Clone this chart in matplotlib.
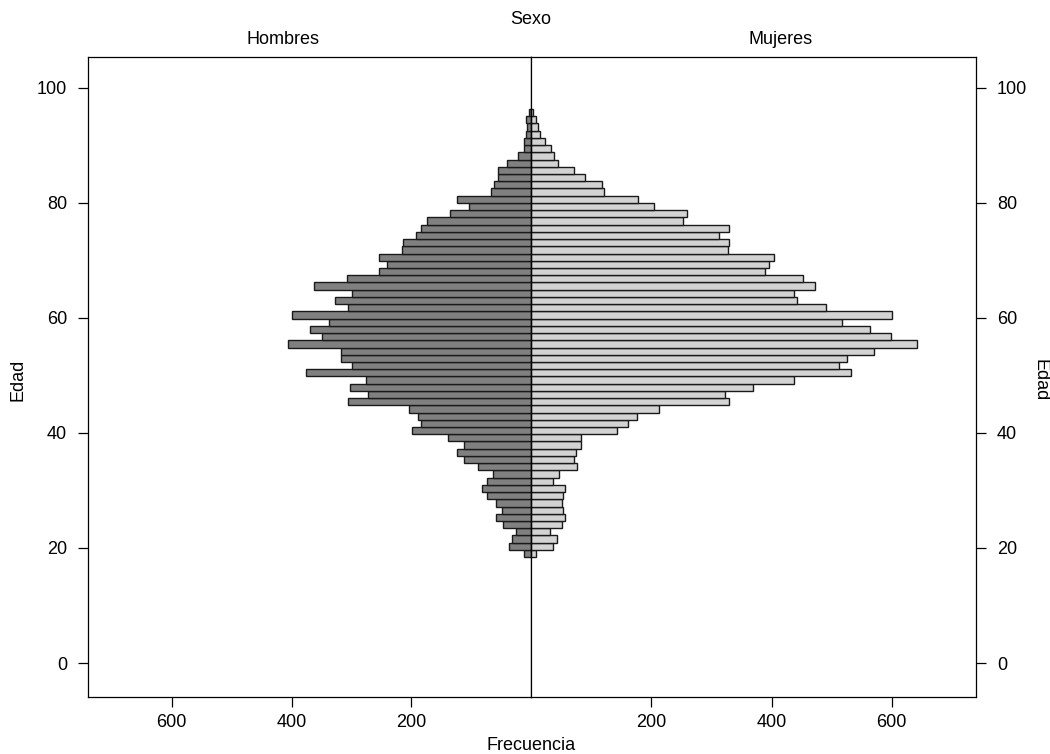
import numpy as np
import matplotlib
matplotlib.use("Agg")
import matplotlib.pyplot as plt

plt.rcParams['font.family'] = ['Liberation Sans', 'DejaVu Sans']

# Frequencies per age bin, listed from the oldest bin (top) to the youngest (bottom)
hombres = [3, 8, 7, 8, 11, 11, 22, 40, 55, 55,
           61, 67, 123, 103, 136, 174, 183, 192, 213, 216,
           254, 240, 254, 307, 362, 299, 328, 305, 400, 337,
           370, 349, 406, 317, 317, 299, 376, 275, 302, 273,
           305, 204, 189, 183, 198, 138, 112, 123, 112, 88,
           64, 73, 82, 73, 58, 49, 58, 46, 25, 31,
           37, 11]
mujeres = [3, 8, 12, 15, 23, 33, 38, 45, 71, 89,
           118, 122, 178, 205, 259, 253, 330, 312, 330, 327,
           404, 395, 389, 452, 473, 437, 442, 490, 600, 517,
           564, 598, 642, 571, 526, 512, 532, 437, 369, 323,
           330, 213, 176, 161, 143, 83, 83, 74, 71, 77,
           47, 36, 56, 53, 51, 53, 56, 51, 32, 44,
           36, 8]
edad_min = 18.4      # lower edge of the youngest bin
ancho_clase = 1.256  # bin width in years
y_ticks = [0, 20, 40, 60, 80, 100]
x_ticks = [200, 400, 600]
panel_labels = ["Hombres", "Mujeres"]

h = np.array(hombres[::-1])
m = np.array(mujeres[::-1])
centros = edad_min + ancho_clase * (np.arange(len(h)) + 0.5)

fig = plt.figure(figsize=(10.5, 7.54), dpi=100)
W, H = 1050, 754
x0, xc, x1 = 88, 531, 976
ytop, ybot = 57, 697
axL = fig.add_axes([x0 / W, 1 - ybot / H, (xc - x0) / W, (ybot - ytop) / H])
axR = fig.add_axes([xc / W, 1 - ybot / H, (x1 - xc) / W, (ybot - ytop) / H])

ylim = (-5.9, 105.3)
xmax = 740
edge = '#1a1a1a'
fs = 13
axL.barh(centros, h, height=ancho_clase, color='#808080', edgecolor=edge, linewidth=1.0)
axR.barh(centros, m, height=ancho_clase, color='#d3d3d3', edgecolor=edge, linewidth=1.0)

axL.set_xlim(xmax, 0)
axR.set_xlim(0, xmax)
for ax in (axL, axR):
    ax.set_ylim(*ylim)
    ax.set_xticks(x_ticks)
    ax.set_yticks(y_ticks)
    for s in ax.spines.values():
        s.set_linewidth(0.9)
        s.set_color('black')
    ax.tick_params(axis='both', direction='out', length=7, width=0.9,
                   labelsize=fs, colors='black')
    ax.tick_params(axis='x', pad=5)
    ax.tick_params(axis='y', pad=8)

axL.tick_params(axis='y', left=True, right=False, labelleft=True, labelright=False)
axR.tick_params(axis='y', left=False, right=True, labelleft=False, labelright=True)

fig.text(xc / W, 1 - 20 / H, "Sexo", ha='center', va='center', fontsize=fs)
fig.text(283 / W, 1 - 40 / H, panel_labels[0], ha='center', va='center', fontsize=fs)
fig.text(781 / W, 1 - 40 / H, panel_labels[1], ha='center', va='center', fontsize=fs)
fig.text(xc / W, 1 - 745 / H, "Frecuencia", ha='center', va='center', fontsize=fs)
fig.text(18 / W, 1 - 380 / H, "Edad", ha='center', va='center', rotation=90, fontsize=fs)
fig.text(1040 / W, 1 - 380 / H, "Edad", ha='center', va='center', rotation=270, fontsize=fs)

fig.savefig("out.png", dpi=100)
